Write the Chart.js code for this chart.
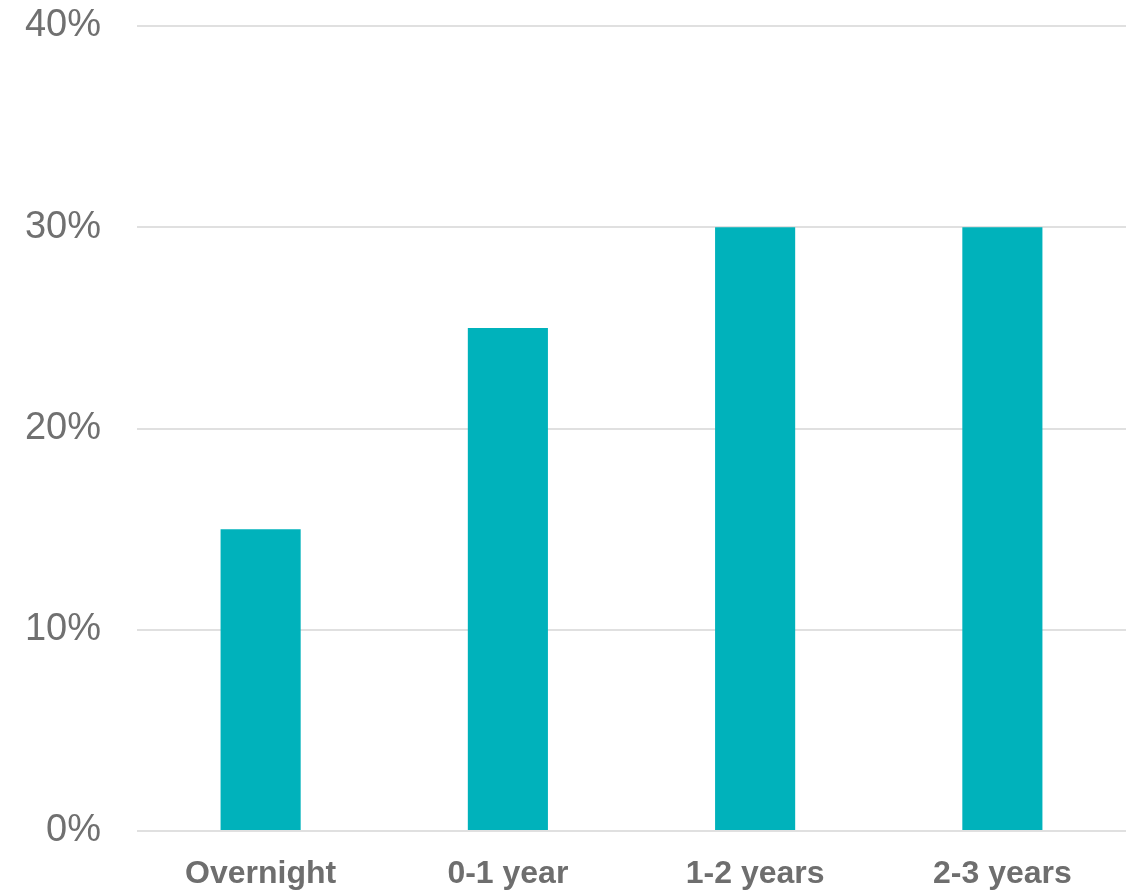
<!DOCTYPE html>
<html>
<head>
<meta charset="utf-8">
<script src="https://cdn.jsdelivr.net/npm/chart.js@4/dist/chart.umd.min.js"></script>
<style>
  html, body { margin: 0; padding: 0; background: #fff; }
  #wrap { width: 1142px; height: 893px; }
</style>
</head>
<body>
<div id="wrap"><canvas id="myChart"></canvas></div>
<script>
const categories = ["Overnight", "0-1 year", "1-2 years", "2-3 years"];
const shares = [15, 25, 30, 30];
const yTicks = [0, 10, 20, 30, 40];

const ctx = document.getElementById("myChart");

const grafico = new Chart(ctx, {
  type: "bar",
  data: {
    labels: categories,
    datasets: [
      {
        data: shares,
        backgroundColor: "#00B2BB",
        categoryPercentage: 1,
        barPercentage: 0.324,
      },
    ],
  },
  options: {
    responsive: true,
    maintainAspectRatio: false,
    animation: false,
    layout: { padding: { top: 0, right: 16, left: 0, bottom: 0 } },
    plugins: { legend: { display: false }, tooltip: { enabled: false } },
    scales: {
      x: {
        afterFit: (axis) => {
          axis.height = 62;
          axis.paddingBottom = 0;
        },
        grid: { display: false },
        border: { display: false },
        ticks: {
          color: "#6e6e6e",
          padding: 16,
          font: { family: "Liberation Sans, Arial", size: 32, weight: "bold" },
        },
      },
      y: {
        min: 0,
        max: 40,
        afterBuildTicks: (axis) => {
          axis.ticks = yTicks.map((v) => ({ value: v }));
        },
        afterFit: (axis) => {
          axis.width = 137;
          axis.paddingTop = 26;
          axis.paddingBottom = 0;
        },
        grid: { color: "#e0e0e0", lineWidth: 2, drawTicks: false },
        border: { display: false },
        ticks: {
          color: "#707070",
          padding: 36,
          callback: (v) => v + "%",
          font: { family: "Liberation Sans, Arial", size: 38 },
        },
      },
    },
  },
});
</script>
</body>
</html>
